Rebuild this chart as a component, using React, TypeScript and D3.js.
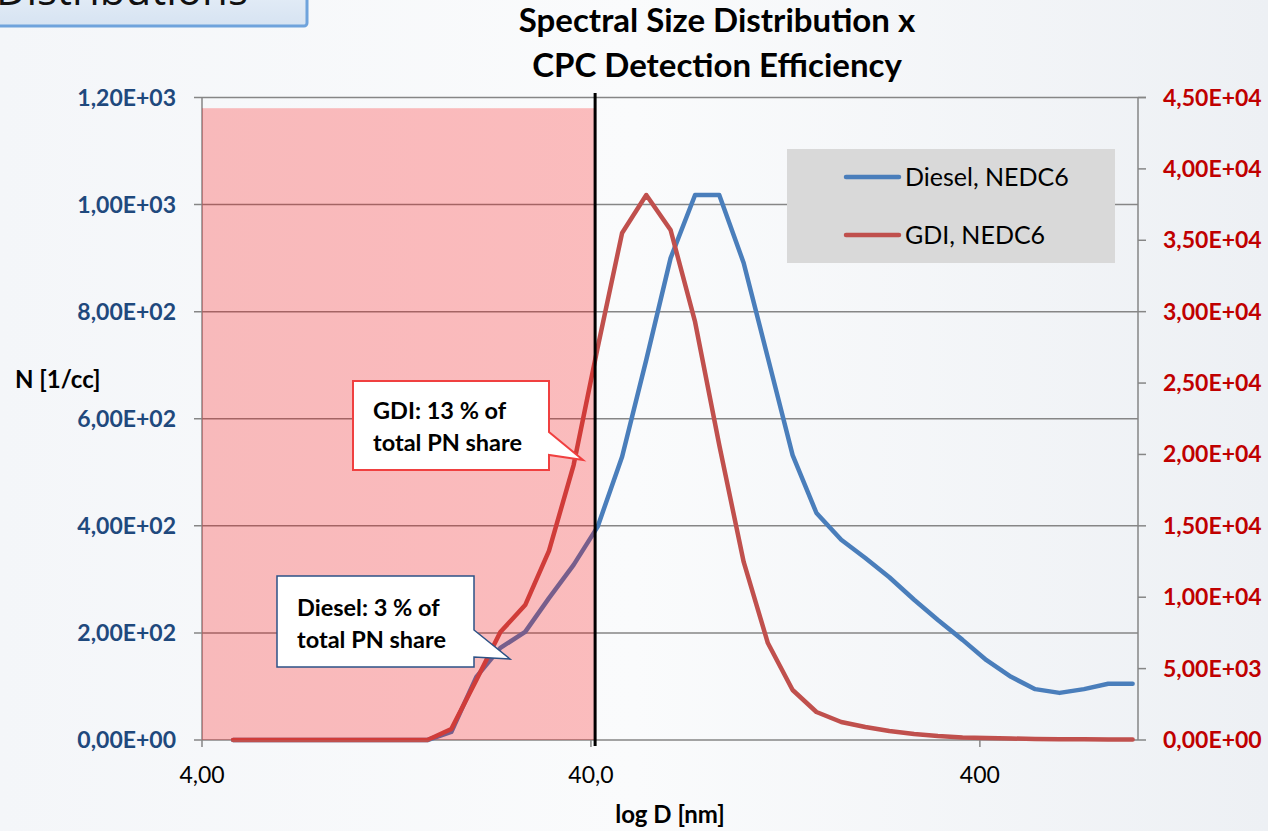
import * as d3 from 'd3';

// particle diameters [nm], 16 channels per decade
const diameters = [
  4.81, 5.55, 6.41, 7.41, 8.55, 9.88, 11.4, 13.2, 15.2, 17.5,
  20.3, 23.4, 27.1, 31.2, 36.1, 41.6, 48.1, 55.5, 64.1, 74.1,
  85.5, 98.8, 114, 132, 152, 176, 203, 234, 271, 312,
  361, 416, 481, 555, 641, 741, 855, 988,
];

// Diesel, NEDC6 (left axis, N [1/cc])
const dieselN = [
  0, 0, 0, 0, 0, 0, 0, 0, 0, 15,
  118, 172, 202, 265, 327, 398, 529, 710, 900, 1018,
  1018, 891, 714, 532, 424, 374, 340, 304, 262, 224,
  187, 149, 118, 95, 88, 95, 105, 105,
];

// GDI, NEDC6 (right axis)
const gdiN = [
  0, 0, 0, 0, 0, 0, 0, 0, 0, 770,
  4200, 7560, 9450, 13240, 19260, 27460, 35510, 38170, 35720, 29280,
  20660, 12470, 6790, 3500, 1960, 1260, 910, 630, 420, 280,
  175, 140, 105, 70, 60, 50, 40, 35,
];

const leftTicks = [0, 200, 400, 600, 800, 1000, 1200];
const rightTicks = [0, 5000, 10000, 15000, 20000, 25000, 30000, 35000, 40000, 45000];
const xTicks = [4, 40, 400];
const xTickLabels = ['4,00', '40,0', '400'];

const cutoffD = 41; // CPC cut-off (black line)
const shadeTop = 1180;

const FONT = 'Lato, "Open Sans", sans-serif';
const BLUE = '#4A7EBB';
const RED = '#C0504D';
const GRID = '#868686';

const sci = (v: number) => {
  const [m, e] = v.toExponential(2).split('e');
  const ex = Math.abs(+e).toString().padStart(2, '0');
  return `${m.replace('.', ',')}E${+e < 0 ? '-' : '+'}${ex}`;
};

export default function App() {
  const width = 1268;
  const height = 831;
  const left = 202, right = 1138, top = 97.5, bottom = 740;

  const x = d3.scaleLog().domain([4, 1020]).range([left, right]);
  const yL = d3.scaleLinear().domain([0, 1200]).range([bottom, top]);
  const yR = d3.scaleLinear().domain([0, 45000]).range([bottom, top]);

  const dieselLine = d3.line<number>()
    .x((_, i) => x(diameters[i]))
    .y(d => yL(d));
  const gdiLine = d3.line<number>()
    .x((_, i) => x(diameters[i]))
    .y(d => yR(d));

  const xc = x(cutoffD);

  return (
    <svg width={width} height={height}
      style={{ position: 'fixed', left: 0, top: 0, fontFamily: FONT }}>
      <defs>
        <linearGradient id="bg" x1="0" y1="0" x2="1" y2="0">
          <stop offset="0" stopColor="#F4F6F9" />
          <stop offset="0.5" stopColor="#FAFBFC" />
          <stop offset="1" stopColor="#EDF0F4" />
        </linearGradient>
        <linearGradient id="hdr" x1="0" y1="0" x2="0" y2="1">
          <stop offset="0" stopColor="#E9F0F8" />
          <stop offset="1" stopColor="#D6E3F2" />
        </linearGradient>
      </defs>
      <rect width={width} height={height} fill="url(#bg)" />

      {/* slide header box */}
      <rect x={-10} y={-20} width={317} height={46} rx={3} fill="url(#hdr)" stroke="#6FA3DC" strokeWidth={3} />
      <text x={-4} y={5} fontSize={42} fontFamily='"Open Sans", sans-serif' fill="#111">Distributions</text>

      {/* title */}
      <text x={717} y={32} textAnchor="middle" fontSize={33} fontWeight="bold" fill="#000">Spectral Size Distribution x</text>
      <text x={717} y={77} textAnchor="middle" fontSize={33} fontWeight="bold" fill="#000">CPC Detection Efficiency</text>

      {/* gridlines */}
      {leftTicks.map(t => (
        <line key={t} x1={left - 8} x2={t === 1200 ? right + 8 : right} y1={yL(t)} y2={yL(t)}
          stroke={GRID} strokeWidth={1.5} />
      ))}

      {/* axes */}
      <line x1={left} x2={left} y1={top} y2={bottom} stroke={GRID} strokeWidth={1.5} />
      <line x1={right} x2={right} y1={top} y2={bottom} stroke={GRID} strokeWidth={1.5} />
      {rightTicks.map(t => (
        <line key={t} x1={right} x2={right + 8} y1={yR(t)} y2={yR(t)} stroke={GRID} strokeWidth={1.5} />
      ))}
      {xTicks.map(t => (
        <line key={t} x1={x(t)} x2={x(t)} y1={bottom} y2={bottom + 7} stroke={GRID} strokeWidth={1.5} />
      ))}

      {/* tick labels */}
      {leftTicks.map(t => (
        <text key={t} x={176} y={yL(t) + 8} textAnchor="end" fontSize={23} fontWeight="bold" fill="#1F497D">{sci(t)}</text>
      ))}
      {rightTicks.map(t => (
        <text key={t} x={1163} y={yR(t) + 8} fontSize={23} fontWeight="bold" fill="#C00000">{sci(t)}</text>
      ))}
      {xTicks.map((t, i) => (
        <text key={t} x={x(t)} y={783} textAnchor="middle" fontSize={23} fill="#000">{xTickLabels[i]}</text>
      ))}

      {/* axis titles */}
      <text x={670} y={823} textAnchor="middle" fontSize={24} fontWeight="bold" fill="#000">log D [nm]</text>
      <text x={15} y={388} fontSize={24} fontWeight="bold" fill="#000">N [1/cc]</text>

      {/* series */}
      <path d={dieselLine(dieselN) ?? ''} fill="none" stroke={BLUE} strokeWidth={4.5} strokeLinejoin="round" strokeLinecap="round" />
      <path d={gdiLine(gdiN) ?? ''} fill="none" stroke={RED} strokeWidth={4.5} strokeLinejoin="round" strokeLinecap="round" />

      {/* below-cutoff shading */}
      <rect x={x(4)} y={yL(shadeTop)} width={xc - x(4)} height={bottom - yL(shadeTop)} fill="rgba(255,0,0,0.25)" />
      <line x1={xc} x2={xc} y1={93} y2={746} stroke="#000" strokeWidth={3} />

      {/* legend */}
      <rect x={787} y={149} width={328} height={114} fill="#D9D9D9" />
      <line x1={846} x2={899} y1={177} y2={177} stroke={BLUE} strokeWidth={4.5} strokeLinecap="round" />
      <text x={905} y={186} fontSize={25} fill="#000">Diesel, NEDC6</text>
      <line x1={846} x2={899} y1={235} y2={235} stroke={RED} strokeWidth={4.5} strokeLinecap="round" />
      <text x={905} y={244} fontSize={25} fill="#000">GDI, NEDC6</text>

      {/* callouts */}
      <path d="M353,381 H549 V432 L583,460 L549,455 V470 H353 Z" fill="#fff" stroke="#F04040" strokeWidth={2} />
      <text x={373} y={419} fontSize={23.5} fontWeight="bold" fill="#000">GDI: 13 % of</text>
      <text x={373} y={451} fontSize={23.5} fontWeight="bold" fill="#000">total PN share</text>

      <path d="M277,576 H474 V630 L510,659 L474,657 V667 H277 Z" fill="#fff" stroke="#2C5286" strokeWidth={1.5} />
      <text x={297} y={616} fontSize={23.5} fontWeight="bold" fill="#000">Diesel: 3 % of</text>
      <text x={297} y={648} fontSize={23.5} fontWeight="bold" fill="#000">total PN share</text>
    </svg>
  );
}
